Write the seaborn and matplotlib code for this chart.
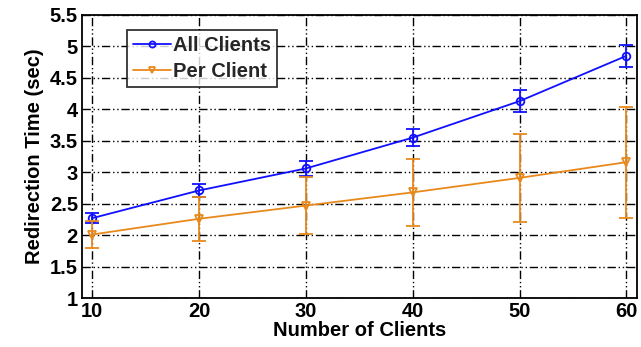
import pandas as pd
import numpy as np
import seaborn as sns
import matplotlib.pyplot as plt

clients = [10, 20, 30, 40, 50, 60]
all_mean = [2.27, 2.71, 3.06, 3.55, 4.13, 4.85]
all_err = [0.08, 0.10, 0.12, 0.13, 0.17, 0.17]
per_mean = [2.01, 2.26, 2.47, 2.68, 2.91, 3.16]
per_err = [0.22, 0.35, 0.45, 0.53, 0.70, 0.88]

blue = '#1010ff'
orange = '#e8891c'

data = pd.concat([
    pd.DataFrame({'clients': clients, 'time': all_mean, 'err': all_err, 'series': 'All Clients'}),
    pd.DataFrame({'clients': clients, 'time': per_mean, 'err': per_err, 'series': 'Per Client'}),
])

sns.set_theme(style="white")
plt.rcParams['font.family'] = ['Liberation Sans', 'DejaVu Sans']
plt.rcParams['font.weight'] = 'bold'

fig = plt.figure(figsize=(6.41, 3.47), dpi=100)
ax = fig.add_axes([0.128, 0.141, 0.866, 0.816])

for name, color, mk in [('All Clients', blue, 'o'), ('Per Client', orange, 'v')]:
    d = data[data['series'] == name]
    sns.lineplot(x=d['clients'], y=d['time'], color=color, marker=mk, label=name,
                 markersize=5.5, markerfacecolor='none', markeredgecolor=color,
                 markeredgewidth=1.3, linewidth=1.3, ax=ax, zorder=3)
    ax.errorbar(d['clients'], d['time'], yerr=d['err'], fmt='none',
                ecolor=color, elinewidth=1.3, capsize=5, capthick=1.3, zorder=3)

ax.set_xlim(9.05, 61.0)
ax.set_ylim(1, 5.5)
ax.set_xticks(clients)
yt = np.arange(1, 5.51, 0.5)
ax.set_yticks(yt)
ax.set_yticklabels([f'{v:g}' for v in yt])
ax.tick_params(direction='in', length=5, width=1, labelsize=14.5, pad=3,
               color='black', labelcolor='black')
for lab in ax.get_xticklabels() + ax.get_yticklabels():
    lab.set_fontweight('bold')

ax.grid(True, color='black', linestyle=(0, (6, 2, 1, 2, 1, 2)), linewidth=1.0)
ax.set_axisbelow(True)
for s in ax.spines.values():
    s.set_color('black')
    s.set_linewidth(1.3)

ax.set_xlabel('Number of Clients', fontsize=14.5, fontweight='bold', labelpad=0, color='black')
ax.set_ylabel('Redirection Time (sec)', fontsize=14.5, fontweight='bold', labelpad=4, color='black')

leg = ax.legend(loc='upper left', bbox_to_anchor=(0.081, 0.947), frameon=True,
                fancybox=False, edgecolor='black', prop={'weight': 'bold', 'size': 14.5},
                handlelength=1.9, handletextpad=0.1, borderpad=0.3, labelspacing=0.35,
                borderaxespad=0, markerscale=0.8)
leg.get_frame().set_linewidth(1.3)

fig.savefig('out.png', dpi=100)
